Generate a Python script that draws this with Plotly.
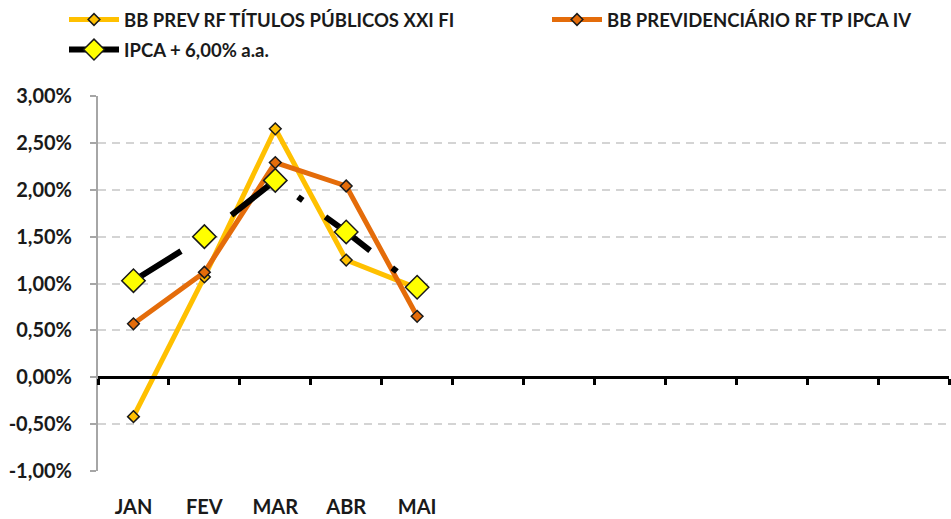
import plotly.graph_objects as go

months = ["JAN", "FEV", "MAR", "ABR", "MAI", "JUN", "JUL", "AGO", "SET", "OUT", "NOV", "DEZ"]
month_labels = ["JAN", "FEV", "MAR", "ABR", "MAI", "", "", "", "", "", "", ""]

name_xxi = "BB PREV RF TÍTULOS PÚBLICOS XXI FI"
name_ipca4 = "BB PREVIDENCIÁRIO RF TP IPCA IV"
name_bench = "IPCA + 6,00% a.a."

vals_xxi = [-0.42, 1.07, 2.65, 1.25, 0.95]
vals_ipca4 = [0.57, 1.12, 2.29, 2.04, 0.65]
vals_bench = [1.03, 1.50, 2.10, 1.55, 0.96]

y_ticks = [-1.0, -0.5, 0.0, 0.5, 1.0, 1.5, 2.0, 2.5, 3.0]
y_ticktext = ["-1,00%", "-0,50%", "0,00%", "0,50%", "1,00%", "1,50%", "2,00%", "2,50%", "3,00%"]

FONT = "Lato"
xpos = list(range(len(months)))

fig = go.Figure()
fig.add_trace(go.Scatter(
    x=xpos[:len(vals_xxi)], y=vals_xxi, name=name_xxi, mode="lines+markers",
    line=dict(color="#FFC000", width=5),
    marker=dict(symbol="diamond", size=9, color="#FFC000", line=dict(color="#1a1a1a", width=1.5)),
    legend="legend"))
fig.add_trace(go.Scatter(
    x=xpos[:len(vals_ipca4)], y=vals_ipca4, name=name_ipca4, mode="lines+markers",
    line=dict(color="#E46C0A", width=5),
    marker=dict(symbol="diamond", size=9, color="#E46C0A", line=dict(color="#1a1a1a", width=1.5)),
    legend="legend2"))
fig.add_trace(go.Scatter(
    x=xpos[:len(vals_bench)], y=vals_bench, name=name_bench, mode="lines+markers",
    line=dict(color="#000000", width=6, dash="56px,28px,6px,28px"),
    marker=dict(symbol="diamond", size=18, color="#FFFF00", line=dict(color="#1a1a1a", width=1.5)),
    legend="legend3"))

# invisible trace on the secondary x-axis so it renders (zero line with month ticks)
fig.add_trace(go.Scatter(x=[-0.5, 11.5], y=[0, 0], xaxis="x2", mode="lines",
                         line=dict(width=0), showlegend=False, hoverinfo="skip"))

legfont = dict(family=FONT, size=18.5, color="#1a1a1a", weight="bold")
common_leg = dict(orientation="h", font=legfont, xref="container", yref="container",
                  yanchor="middle", bgcolor="rgba(0,0,0,0)", itemwidth=50)

fig.update_layout(
    width=951, height=519,
    margin=dict(l=98, r=2, t=96, b=48, autoexpand=False),
    paper_bgcolor="white", plot_bgcolor="white",
    font=dict(family=FONT, color="#1a1a1a"),
    legend=dict(x=64 / 951, y=1 - 20 / 519, **common_leg),
    legend2=dict(x=547 / 951, y=1 - 20 / 519, **common_leg),
    legend3=dict(x=64 / 951, y=1 - 50 / 519, **common_leg),
    xaxis=dict(range=[-0.5, 11.5], tickvals=xpos, ticktext=month_labels,
               showgrid=False, zeroline=False, showline=False,
               ticks="outside", ticklen=18, tickcolor="rgba(0,0,0,0)",
               tickfont=dict(family=FONT, size=20, color="#1a1a1a", weight="bold")),
    xaxis2=dict(range=[-0.5, 11.5], overlaying="x", anchor="free", position=0.25,
                tickvals=[i - 0.5 for i in range(len(months) + 1)],
                ticks="outside", ticklen=6, tickwidth=3, tickcolor="#000000",
                showticklabels=False, showgrid=False, zeroline=False,
                showline=True, linecolor="#000000", linewidth=3),
    yaxis=dict(range=[-1.0, 3.0], tickvals=y_ticks, ticktext=y_ticktext,
               showgrid=True, gridcolor="#d4d4d4", gridwidth=2, griddash="8px,6px",
               zeroline=False, showline=True, linecolor="#a6a6a6", linewidth=2,
               ticks="outside", ticklen=6, tickcolor="#a6a6a6", tickwidth=1.5,
               ticklabelstandoff=14,
               tickfont=dict(family=FONT, size=20, color="#1a1a1a", weight="bold")),
)

fig.write_html("out.html", config={"displayModeBar": False},
               post_script="document.body.style.margin='0';")
